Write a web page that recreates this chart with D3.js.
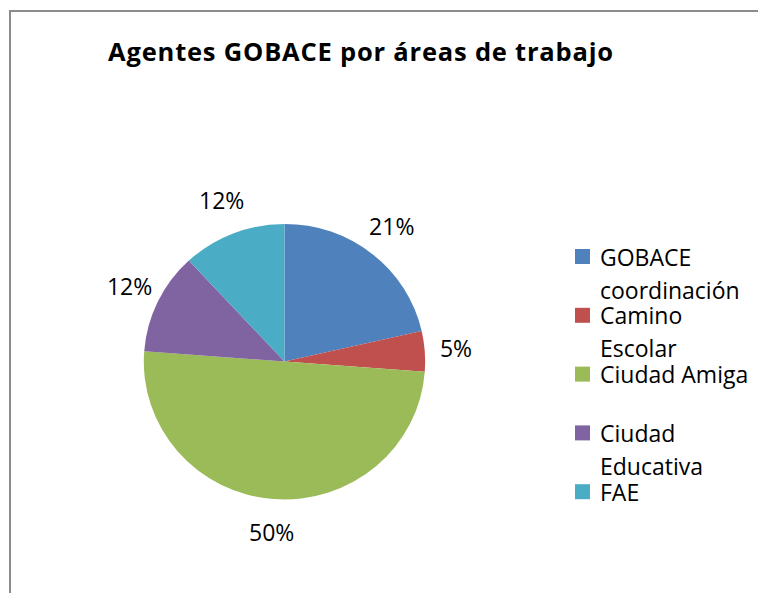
<!DOCTYPE html>
<html>
<head>
<meta charset="utf-8">
<script src="https://cdn.jsdelivr.net/npm/d3@7/dist/d3.min.js"></script>
<style>
  html, body { margin: 0; padding: 0; background: #fff; }
  svg { display: block; }
  text { font-family: "Open Sans", "DejaVu Sans", sans-serif; fill: #000; }
</style>
</head>
<body>
<script>
// chart data (agents per work area)
var areas = ["GOBACE coordinación", "Camino Escolar", "Ciudad Amiga", "Ciudad Educativa", "FAE"];
var legendLines = [["GOBACE", "coordinación"], ["Camino", "Escolar"], ["Ciudad Amiga"], ["Ciudad", "Educativa"], ["FAE"]];
var agents = [9, 2, 21, 5, 5];
var colors = ["#4f81bd", "#c0504d", "#9bbb59", "#8064a2", "#4bacc6"];
var title = "Agentes GOBACE por áreas de trabajo";

var width = 758, height = 593;
var cx = 284.5, cy = 361.5, radius = 139;

var svg = d3.select("body").append("svg")
  .attr("width", width)
  .attr("height", height);

// chart frame (only top and left edges visible in the crop)
svg.append("path")
  .attr("d", "M10," + (height + 2) + "V11H" + (width + 2))
  .attr("fill", "none")
  .attr("stroke", "#8c8c8c")
  .attr("stroke-width", 2);

svg.append("text")
  .attr("x", 361)
  .attr("y", 61)
  .attr("text-anchor", "middle")
  .style("font-weight", "bold")
  .style("font-size", "25.5px")
  .style("letter-spacing", "0.8px")
  .text(title);

var total = d3.sum(agents);
var data = agents.map(function(v, i) { return { name: areas[i], value: v, i: i }; });

var pie = d3.pie().sort(null).value(function(d) { return d.value; });
var arcs = pie(data);

var arc = d3.arc().innerRadius(0).outerRadius(radius);
var labelArc = d3.arc().innerRadius(172).outerRadius(172);

var g = svg.append("g")
  .attr("transform", "translate(" + cx + "," + cy + ") scale(1.012,0.99)");

g.selectAll("path.slice")
  .data(arcs)
  .enter().append("path")
    .attr("class", "slice")
    .attr("d", arc)
    .attr("fill", function(d) { return colors[d.data.i]; });

var lg = svg.append("g").attr("transform", "translate(" + cx + "," + cy + ")");
lg.selectAll("text.pct")
  .data(arcs)
  .enter().append("text")
    .attr("class", "pct")
    .attr("transform", function(d) { return "translate(" + labelArc.centroid(d) + ")"; })
    .attr("text-anchor", "middle")
    .attr("dy", "0.35em")
    .style("font-size", "23px")
    .text(function(d) { return Math.round(d.data.value / total * 100) + "%"; });

// legend
var legend = svg.append("g").attr("transform", "translate(575,249)");
var item = legend.selectAll("g.item")
  .data(data)
  .enter().append("g")
    .attr("class", "item")
    .attr("transform", function(d, i) { return "translate(0," + (i * 58.8) + ")"; });

item.append("rect")
  .attr("width", 15)
  .attr("height", 15)
  .attr("fill", function(d) { return colors[d.i]; });

item.append("text")
  .attr("x", 25)
  .attr("y", 16.5)
  .style("font-size", "23px")
  .selectAll("tspan")
  .data(function(d) { return legendLines[d.i]; })
  .enter().append("tspan")
    .attr("x", 25)
    .attr("dy", function(d, j) { return j == 0 ? 0 : 33; })
    .text(function(d) { return d; });
</script>
</body>
</html>
